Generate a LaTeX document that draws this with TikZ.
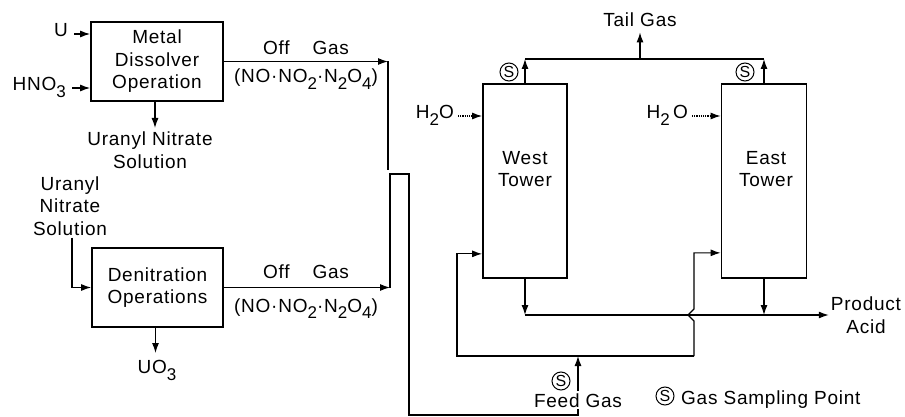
\documentclass[tikz,border=0pt]{standalone}
\usepackage{fontspec}
\setmainfont[LetterSpace=4]{Liberation Sans}
\usetikzlibrary{arrows.meta}
\newcommand{\chsub}[1]{\raisebox{-0.35em}{\fontsize{17}{17}\selectfont #1}}
\begin{document}
\begin{tikzpicture}[x=1pt,y=-1pt,
  lbl/.style={inner sep=2pt, align=center, font=\fontsize{19}{22.5}\selectfont},
  box/.style={draw, line width=1.7pt, inner sep=0pt, align=center, font=\fontsize{19}{22.5}\selectfont},
  arr/.style={line width=1.2pt, -{Latex[length=10pt,width=7pt]}},
  ln/.style={line width=1.2pt},
  sp/.style={circle, draw, line width=1pt, inner sep=0pt, minimum size=18pt, font=\fontsize{16}{16}\selectfont}]
\useasboundingbox (0,0) rectangle (905,417);

% ---- left part ----
\node[box, minimum width=132pt, minimum height=79pt] (diss) at (157,61.5) {Metal\\Dissolver\\Operation};
\node[box, minimum width=131pt, minimum height=79pt] (den) at (157.5,287.5) {Denitration\\Operations};

\node[lbl, anchor=mid east] (u) at (70,34) {U};
\node[lbl, anchor=mid east] (hno) at (68,88) {HNO\chsub3};
\draw[arr, shorten <=4pt] (u.mid east) -- (u.mid east -| diss.west);
\draw[arr, shorten <=4pt] (hno.mid east) -- (hno.mid east -| diss.west);

\node[lbl, anchor=north] (uns1) at (150,130) {Uranyl Nitrate\\Solution};
\draw[arr, shorten >=2pt] ([xshift=-2pt]diss.south) -- ([xshift=-2pt]diss.south |- uns1.north);

\node[lbl] (uns2) at (70,206) {Uranyl\\Nitrate\\Solution};
\draw[arr] ([xshift=2pt]uns2.south) |- (den.west);

\node[lbl, anchor=north] (uo3) at (157,358) {UO\chsub3};
\draw[arr, shorten >=5pt] ([xshift=-2pt]den.south) -- ([xshift=-2pt]den.south |- uo3.north);

\node[lbl, anchor=base] (og1) at (306,55) {Off\hspace{23pt}Gas};
\node[lbl, anchor=base] (nx1) at (306,83) {(NO·NO\chsub2·N\chsub2O\chsub4)};
\node[lbl, anchor=base] (og2) at (306,278) {Off\hspace{23pt}Gas};
\node[lbl, anchor=base] (nx2) at (306,312) {(NO·NO\chsub2·N\chsub2O\chsub4)};

\coordinate (d1) at (388,170);
\coordinate (c1) at (390,174);
\coordinate (c2) at (409,174);
\coordinate (c3) at (409,415);
\draw[arr] (diss.east) -- (diss.east -| d1);
\draw[ln] (diss.east -| d1) -- (d1);
\draw[arr] (den.east) -- (den.east -| c1);

% ---- towers ----
\node[box, minimum width=84pt, minimum height=194pt] (west) at (525,181) {};
\node[box, minimum width=85pt, minimum height=194pt] (east) at (764,181) {};
\node[lbl] (wl) at (525,169) {West\\Tower};
\node[lbl] (el) at (766,169) {East\\Tower};

\node[lbl, anchor=mid east] (h1) at (456,116) {H\chsub2O};
\node[lbl, anchor=mid east] (h2) at (690,116) {H\chsub2\,O};
\draw[arr, densely dotted, shorten <=2pt] (h1.mid east) -- (h1.mid east -| west.west);
\draw[arr, densely dotted, shorten <=2pt] (h2.mid east) -- (h2.mid east -| east.west);

% tail gas
\node[lbl, anchor=base] (tg) at (640,27) {Tail Gas};
\coordinate (tl) at (640,59);
\draw[arr] (west.north) -- (west.north |- tl);
\draw[arr] (east.north) -- (east.north |- tl);
\draw[ln] (west.north |- tl) -- (east.north |- tl);
\draw[arr, shorten >=3pt] (tl) -- (tg.south);
\node[sp] (s1) at (509,72) {S};
\node[sp] (s2) at (745,72) {S};

% product acid
\node[lbl] (prod) at (866,315) {Product\\Acid};
\draw[arr] (west.south) -- (west.south |- prod.west);
\draw[arr] (east.south) -- (east.south |- prod.west);
\draw[arr] (west.south |- prod.west) -- (prod.west);

% recycle loop
\coordinate (lb) at (457,356);
\coordinate (rb) at (694,356);
\coordinate (hopa) at (694,321);
\coordinate (hopb) at (688,315);
\coordinate (hopc) at (694,309);
\draw[arr] (rb) -- (lb) |- ([yshift=25pt]west.south west);
\draw[arr] (rb) -- (hopa) -- (hopb) -- (hopc) |- ([yshift=26pt]east.south west);

% feed gas
\node[lbl, anchor=base] (fg) at (578,407) {Feed Gas};
\draw[ln] (den.east -| c1) -- (c1) -- (c2) -- (c3) -| (fg.south);
\draw[arr] (fg.north) -- (fg.north |- lb);
\node[sp] (s3) at (561,381) {S};

% legend
\node[sp] (s4) at (665,396) {S};
\node[lbl, anchor=base west] (leg) at (679,404) {Gas Sampling Point};
\end{tikzpicture}
\end{document}
